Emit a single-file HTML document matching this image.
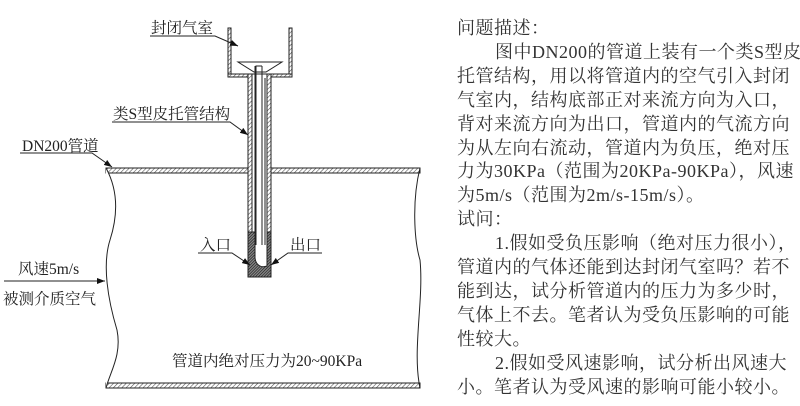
<!DOCTYPE html>
<html><head><meta charset="utf-8"><style>
body{margin:0;background:#fff;width:800px;height:406px;overflow:hidden;position:relative}
svg{position:absolute;left:0;top:0}
.t{font-family:"Liberation Serif","Noto Serif CJK SC",serif;fill:#222}
#txt{position:absolute;left:457px;top:17px;font-family:"Liberation Serif","Noto Serif CJK SC",serif;font-size:18px;line-height:23.9px;color:#333;white-space:nowrap;letter-spacing:0.5px}
.in{padding-left:38px}
</style></head><body>
<svg width="800" height="406" viewBox="0 0 800 406">
<defs>
<pattern id="h" width="3" height="3" patternUnits="userSpaceOnUse" patternTransform="rotate(45)">
<rect width="3" height="3" fill="#fff"/><line x1="0" y1="0" x2="0" y2="3" stroke="#555" stroke-width="1.2"/></pattern>
<pattern id="d" width="2" height="2" patternUnits="userSpaceOnUse" patternTransform="rotate(45)">
<rect width="2" height="2" fill="#888"/><line x1="0" y1="0" x2="0" y2="2" stroke="#111" stroke-width="1.2"/></pattern>
<marker id="a" markerWidth="8" markerHeight="6" refX="8" refY="3" orient="auto"><path d="M0,0 L8,3 L0,6 z" fill="#111"/></marker>
</defs>
<g stroke="#222" stroke-width="1" fill="none">
<rect x="106" y="168" width="314" height="5" fill="url(#h)"/>
<rect x="106" y="383" width="314" height="5" fill="url(#h)"/>
<path d="M106,168 C118,190 118,215 110,240 C102,265 108,300 117,330 C122,355 110,372 106,388" fill="#fff"/>
<path d="M420,168 C412,200 414,240 420,260 C424,300 412,350 420,388" />
<path d="M228,28 L228,77 L292,77 L292,28" />
<rect x="228" y="28" width="3" height="49" fill="url(#h)"/>
<rect x="289" y="28" width="3" height="49" fill="url(#h)"/>
<rect x="228" y="74" width="64" height="3" fill="url(#h)"/>
<path d="M238,62 L282,62 L266,72 L254,72 Z" fill="#fff"/>
<rect x="248" y="74" width="23" height="203" fill="#fff"/>
<rect x="248" y="74" width="4" height="200" fill="url(#h)"/>
<rect x="267" y="74" width="4" height="200" fill="url(#h)"/>
<line x1="255.5" y1="66" x2="255.5" y2="245" stroke-width="2"/>
<line x1="262" y1="66" x2="262" y2="245"/>
<line x1="255.5" y1="66" x2="262" y2="66"/>
<line x1="265" y1="78" x2="265" y2="245"/>
<path d="M248,232 L255,232 L255,258 C256,266 262,268 267,266 L267,232 L271,232 L271,277 L248,277 Z" fill="url(#d)"/>
<path d="M150,36 L215,36 L238,46" marker-end="url(#a)"/>
<path d="M112,122 L230,122 L248,135" marker-end="url(#a)"/>
<path d="M20,153 L92,153 L112,167" marker-end="url(#a)"/>
<path d="M198,253 L232,253 L250,265" marker-end="url(#a)"/>
<path d="M322,253 L288,253 L271,265" marker-end="url(#a)"/>
<path d="M4,281 L105,281" marker-end="url(#a)"/>
</g>
<g class="t" font-size="15.5">
<text x="151" y="33">封闭气室</text>
<text x="113" y="119">类S型皮托管结构</text>
<text x="22" y="151">DN200管道</text>
<text x="200" y="250">入口</text>
<text x="290" y="250">出口</text>
<text x="18" y="274">风速5m/s</text>
<text x="3" y="304">被测介质空气</text>
<text x="172" y="366">管道内绝对压力为20~90KPa</text>
</g>
</svg>
<div id="txt">
<div>问题描述：</div>
<div class="in">图中DN200的管道上装有一个类S型皮</div>
<div>托管结构，用以将管道内的空气引入封闭</div>
<div>气室内，结构底部正对来流方向为入口，</div>
<div>背对来流方向为出口，管道内的气流方向</div>
<div>为从左向右流动，管道内为负压，绝对压</div>
<div>力为30KPa（范围为20KPa-90KPa），风速</div>
<div>为5m/s（范围为2m/s-15m/s）。</div>
<div>试问：</div>
<div class="in">1.假如受负压影响（绝对压力很小），</div>
<div>管道内的气体还能到达封闭气室吗？若不</div>
<div>能到达，试分析管道内的压力为多少时，</div>
<div>气体上不去。笔者认为受负压影响的可能</div>
<div>性较大。</div>
<div class="in">2.假如受风速影响，试分析出风速大</div>
<div>小。笔者认为受风速的影响可能小较小。</div>
</div>
</body></html>
